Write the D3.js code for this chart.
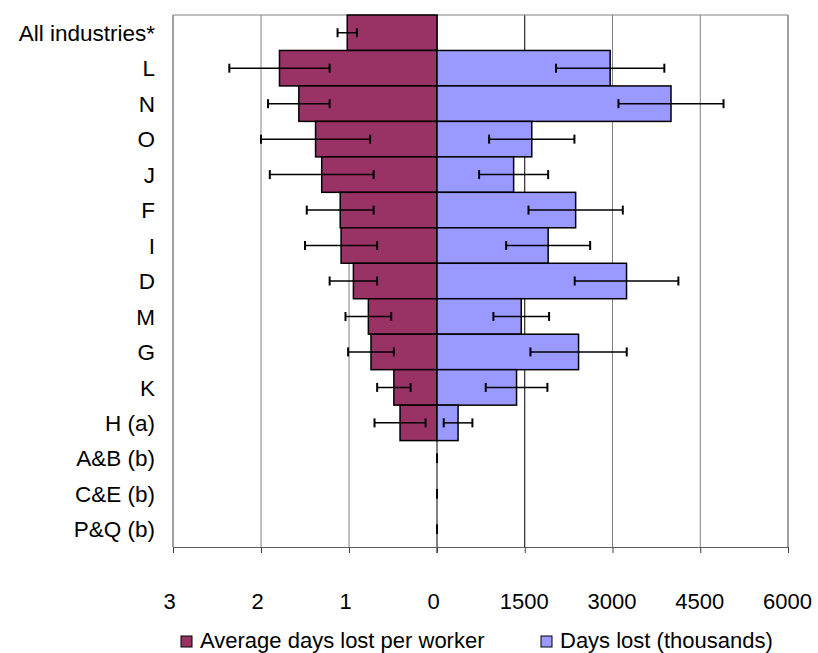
<!DOCTYPE html>
<html>
<head>
<meta charset="utf-8">
<script src="https://cdn.jsdelivr.net/npm/d3@7"></script>
<style>
    body { margin: 0; background: #fff; }
    svg { display: block; font-family: "Liberation Sans", Arial, sans-serif; }
</style>
</head>
<body>
<div id="chart"></div>
<script>
// Industries, top to bottom
const categories = ["All industries*", "L", "N", "O", "J", "F", "I", "D", "M", "G", "K", "H (a)", "A&B (b)", "C&E (b)", "P&Q (b)"];

// Average days lost per worker (left side) and its error
const avgDays = [1.02, 1.79, 1.57, 1.38, 1.31, 1.10, 1.09, 0.95, 0.78, 0.75, 0.49, 0.42, 0, 0, 0];
const avgErr = [0.11, 0.57, 0.35, 0.62, 0.59, 0.38, 0.41, 0.27, 0.26, 0.26, 0.19, 0.29, 0, 0, 0];

// Days lost in thousands (right side) and its error
const daysLost = [0, 2960, 4000, 1620, 1310, 2370, 1900, 3240, 1440, 2420, 1360, 360, 0, 0, 0];
const daysErr = [0, 926, 898, 729, 590, 806, 718, 886, 476, 823, 527, 245, 0, 0, 0];

const leftTicks = [3, 2, 1, 0];
const rightTicks = [1500, 3000, 4500, 6000];

const width = 818;
const height = 653;
const marginTop = 15;
const marginLeft = 173;
const midX = 437;
const marginRight = 788;
const axisY = 547;

const leftColor = "#993366";
const rightColor = "#9999ff";
const gridGrey = "#808080";

const svg = d3.select("#chart")
    .append("svg")
    .attr("width", width)
    .attr("height", height);

// scales: left half for per-worker days, right half for thousands
const xLeft = d3.scaleLinear().domain([3, 0]).range([marginLeft, midX]);
const xRight = d3.scaleLinear().domain([0, 6000]).range([midX, marginRight]);
const y = d3.scaleBand().domain(categories).range([marginTop, axisY]).padding(0);

const rows = categories.map((c, i) => ({
    cat: c,
    avg: avgDays[i],
    avgErr: avgErr[i],
    days: daysLost[i],
    daysErr: daysErr[i],
}));

// gridlines
const grid = svg.append("g");
grid.selectAll(".gl")
    .data(leftTicks.filter((t) => t !== 0))
    .join("line")
    .attr("x1", (d) => xLeft(d))
    .attr("x2", (d) => xLeft(d))
    .attr("y1", marginTop)
    .attr("y2", axisY)
    .attr("stroke", gridGrey);
grid.selectAll(".gr")
    .data(rightTicks)
    .join("line")
    .attr("x1", (d) => xRight(d))
    .attr("x2", (d) => xRight(d))
    .attr("y1", marginTop)
    .attr("y2", axisY)
    .attr("stroke", (d) => (d === 1500 ? "#000" : gridGrey));

// top border
svg.append("line")
    .attr("x1", marginLeft)
    .attr("x2", marginRight)
    .attr("y1", marginTop)
    .attr("y2", marginTop)
    .attr("stroke", gridGrey);

// zero line
svg.append("line")
    .attr("x1", midX)
    .attr("x2", midX)
    .attr("y1", marginTop)
    .attr("y2", axisY + 6)
    .attr("stroke", "#000");

// bars
svg.append("g")
    .selectAll("rect")
    .data(rows.filter((d) => d.avg > 0))
    .join("rect")
    .attr("x", (d) => xLeft(d.avg))
    .attr("y", (d) => y(d.cat))
    .attr("width", (d) => midX - xLeft(d.avg))
    .attr("height", y.bandwidth())
    .attr("fill", leftColor)
    .attr("stroke", "#000")
    .attr("stroke-width", 1.5);

svg.append("g")
    .selectAll("rect")
    .data(rows.filter((d) => d.days > 0))
    .join("rect")
    .attr("x", midX)
    .attr("y", (d) => y(d.cat))
    .attr("width", (d) => xRight(d.days) - midX)
    .attr("height", y.bandwidth())
    .attr("fill", rightColor)
    .attr("stroke", "#000")
    .attr("stroke-width", 1.5);

// error bars
function errorBars(data, lo, hi) {
    const g = svg.append("g")
        .attr("stroke", "#000")
        .attr("stroke-width", 1.5);
    const e = g.selectAll("g").data(data).join("g")
        .attr("transform", (d) => `translate(0,${y(d.cat) + y.bandwidth() / 2})`);
    e.append("line").attr("x1", lo).attr("x2", hi);
    e.append("line").attr("x1", lo).attr("x2", lo).attr("y1", -4.5).attr("y2", 4.5).attr("stroke-width", 2);
    e.append("line").attr("x1", hi).attr("x2", hi).attr("y1", -4.5).attr("y2", 4.5).attr("stroke-width", 2);
}
errorBars(rows, (d) => xLeft(d.avg + d.avgErr), (d) => xLeft(Math.max(0, d.avg - d.avgErr)));
errorBars(rows.filter((d) => d.days > 0 || d.avg === 0),
    (d) => xRight(d.days - d.daysErr), (d) => xRight(d.days + d.daysErr));

// border left / right
svg.append("line")
    .attr("x1", marginLeft).attr("x2", marginLeft)
    .attr("y1", marginTop).attr("y2", axisY)
    .attr("stroke", gridGrey);
svg.append("line")
    .attr("x1", marginRight).attr("x2", marginRight)
    .attr("y1", marginTop).attr("y2", axisY)
    .attr("stroke", gridGrey);

// bottom axis, two halves
const axisLeft = svg.append("g")
    .attr("transform", `translate(0,${axisY})`)
    .call(d3.axisBottom(xLeft).tickValues(leftTicks).tickSize(6).tickSizeOuter(0).tickPadding(40).tickFormat(d3.format("d")));
const axisRight = svg.append("g")
    .attr("transform", `translate(0,${axisY})`)
    .call(d3.axisBottom(xRight).tickValues(rightTicks).tickSize(6).tickSizeOuter(0).tickPadding(40).tickFormat(d3.format("d")));

[axisLeft, axisRight].forEach((a) => {
    a.select(".domain").attr("stroke", "#606060");
    a.selectAll(".tick line").attr("stroke", "#404040");
    a.selectAll(".tick text")
        .attr("font-size", 22)
        .attr("font-family", "Liberation Sans, Arial, sans-serif")
        .attr("fill", "#000");
});
axisLeft.selectAll(".tick text").attr("dx", -4);
axisRight.selectAll(".tick text").attr("dx", -1);

// category labels
svg.append("g")
    .selectAll("text")
    .data(categories)
    .join("text")
    .attr("x", 155)
    .attr("y", (d) => y(d) + y.bandwidth() / 2)
    .attr("dy", "0.36em")
    .attr("text-anchor", "end")
    .attr("font-size", 22.5)
    .text((d) => d);

// legend
const legend = [
    { label: "Average days lost per worker", color: leftColor, x: 181 },
    { label: "Days lost (thousands)", color: rightColor, x: 541 },
];
const lg = svg.append("g").selectAll("g").data(legend).join("g")
    .attr("transform", (d) => `translate(${d.x},636)`);
lg.append("rect")
    .attr("width", 11)
    .attr("height", 11)
    .attr("fill", (d) => d.color)
    .attr("stroke", "#000");
lg.append("text")
    .attr("x", 19)
    .attr("y", 12)
    .attr("font-size", 22)
    .text((d) => d.label);
</script>
</body>
</html>
